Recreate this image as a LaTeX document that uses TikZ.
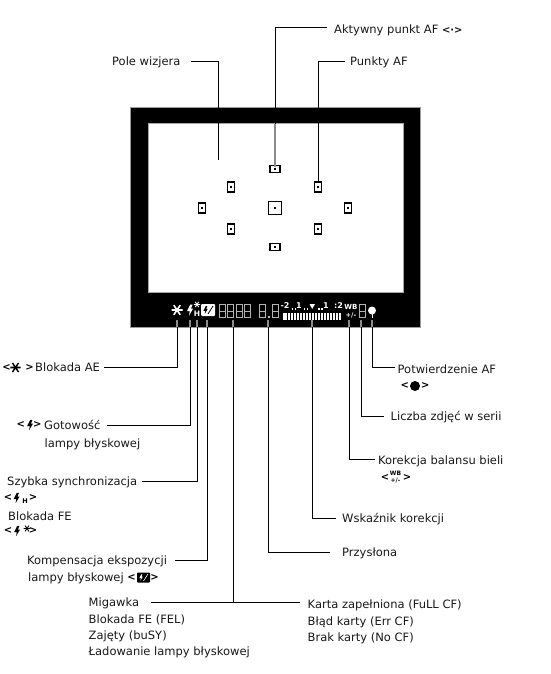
\documentclass[tikz,border=0pt]{standalone}
\usepackage{fontspec}
\setmainfont{DejaVu Sans}
\newfontfamily\symf{DejaVu Sans}[BoldFont={DejaVu Sans Bold}]
\newcommand{\digit}[2]{\draw[digitline] (#1,#2) rectangle ++(6,13) (#1,#2+6.5) -- ++(6,0);}
\newcommand{\boltshape}[4]{\fill[#4] (#1+0.3*#3,#2-5.5*#3) -- (#1+2.6*#3,#2-5.5*#3) -- (#1+1*#3,#2-1.5*#3) -- (#1+3.2*#3,#2-1.5*#3) -- (#1-1*#3,#2+5.5*#3) -- (#1-0.2*#3,#2+1.2*#3) -- (#1-3*#3,#2+1.2*#3) -- cycle;}
\newcommand{\starshape}[4]{\draw[#4,line width=#3*1.6pt] (#1-5.5*#3,#2) -- (#1+5.5*#3,#2) (#1-3.2*#3,#2-4.8*#3) -- (#1+3.2*#3,#2+4.8*#3) (#1+3.2*#3,#2-4.8*#3) -- (#1-3.2*#3,#2+4.8*#3);}
\tikzset{
  x=1pt,y=-1pt,
  lbl/.style={anchor=base west,yshift=-4pt,inner sep=0pt,font=\fontsize{11.5}{13}\selectfont,text=black!90},
  leader/.style={draw=black,line width=1pt},
  inframe/.style={draw=black!45,line width=1.4pt},
  afbox/.style={draw=black,line width=1.1pt,fill=white,inner sep=0pt,minimum width=#1},
  afdot/.style={fill=black,inner sep=0pt,minimum size=1.6pt},
  digitline/.style={draw=black!30!white,line width=.6pt},
  brk/.style={anchor=center,inner sep=0pt,font=\symf\bfseries\fontsize{10}{11}\selectfont},
  lcd/.style={anchor=center,inner sep=0pt,text=white,font=\symf\bfseries\fontsize{8}{9}\selectfont},
}
\begin{document}
\begin{tikzpicture}
\useasboundingbox (0,0) rectangle (550,674);
\fill[white] (0,0) rectangle (550,674);
% frame
\filldraw[fill=black,draw=black!40,line width=.8pt] (130,107) rectangle (420,327);
\fill[white] (148,123) rectangle (403,292);
\draw[black!35,line width=.8pt] (148,123) rectangle (403,292);
% AF points
\foreach \n/\xx/\yy/\w/\h in {t/275/169/10/7,ul/231/187/7/10,ur/318/187/7/10,l/202/208/7/10,c/275/208/13/13,r/348/208/7/10,ll/231/229/7/10,lr/318/229/7/10,b/275/247/10/7}{
  \node[afbox=\w pt,minimum height=\h pt] (af\n) at (\xx,\yy) {};
  \node[afdot] (dot\n) at (\xx,\yy) {};
}
% LCD
\starshape{177}{310}{1}{white}
\boltshape{190}{310}{1}{white}
\starshape{197}{304.5}{.55}{white}
\node[lcd,font=\symf\bfseries\fontsize{7.5}{8}\selectfont] (lcdH) at (197,314) {H};
\fill[white,rounded corners=1pt] (201,304) rectangle (215,316);
\boltshape{205.5}{310}{.7}{black}
\draw[black,line width=.8pt] (208,314) -- (213,306);
\foreach \xx in {219,227.5,236,244.5,259,272,359}{\digit{\xx}{304.5}}
\fill[white!70!black] (268,316) rectangle (269.5,317.5);
\node[lcd] (sc1) at (285,305.5) {-2};
\node[lcd] (sc2) at (299,305.5) {1};
\node[lcd] (sc3) at (326,305.5) {1};
\node[lcd] (sc4) at (338.5,305.5) {:2};
\foreach \xx in {291.5,294.5,303.5,306.5,318,321}{\fill[white] (\xx,307.5) rectangle ++(1.6,2);}
\fill[white] (309.5,304) -- (315,304) -- (312.2,309) -- cycle;
\foreach \i in {0,...,19}{\fill[white] ({282.5+\i*2.95},313) rectangle ++(2,7);}
\node[lcd,font=\symf\bfseries\fontsize{7}{8}\selectfont] (lcdWB) at (351,306.5) {WB};
\node[lcd,font=\symf\bfseries\fontsize{6.5}{8}\selectfont] (lcdPM) at (351,315.5) {+/-};
\fill[white] (372,310.5) circle (4);
\fill[white] (371.5,313) rectangle (373,318);
% labels
\node[lbl] (aktywny) at (334,29.5) {Aktywny punkt AF \symf\bfseries\fontsize{10}{11}\selectfont<·>};
\node[lbl] (punkty) at (350,62) {Punkty AF};
\node[lbl] (pole) at (112,61.5) {Pole wizjera};
\node[lbl] (aebl) at (35,367.5) {Blokada AE};
\node[brk] (aebr) at (18,367.5) {<\hspace{14.5pt}>};
\starshape{15.5}{367.5}{.95}{black}
\node[brk] (gotbr) at (29,425) {<\hspace{8pt}>};
\boltshape{30}{425}{.95}{black}
\node[lbl] (gotowosc) at (44,425) {Gotowość};
\node[lbl] (lampa) at (44.5,443) {lampy błyskowej};
\node[lbl] (szybka) at (7,481) {Szybka synchronizacja};
\node[brk] (szbr) at (20.5,498) {<\hspace{16.5pt}>};
\boltshape{16.5}{498}{.95}{black}
\node[lcd,text=black,font=\symf\bfseries\fontsize{6.5}{8}\selectfont] (szH) at (25,501) {H};
\node[lbl] (blokfe) at (8,516.5) {Blokada FE};
\node[brk] (febr) at (20.5,531) {<\hspace{16.5pt}>};
\boltshape{17}{531}{.95}{black}
\starshape{27}{528.5}{.6}{black}
\node[lbl] (komp) at (27,560) {Kompensacja ekspozycji};
\node[lbl] (komp2) at (28,577.5) {lampy błyskowej};
\node[brk] (kbr) at (143,577.5) {<\hspace{14.5pt}>};
\fill[black,rounded corners=.8pt] (137,572.5) rectangle (150,582.5);
\boltshape{141}{577.5}{.55}{white}
\draw[white,line width=.6pt] (143.5,581) -- (148,574);
\node[lbl] (migawka) at (88.5,602.5) {Migawka};
\node[lbl] (fel) at (88.5,619) {Blokada FE (FEL)};
\node[lbl] (zajety) at (88.5,635) {Zajęty (buSY)};
\node[lbl] (ladow) at (88.5,651) {Ładowanie lampy błyskowej};
\node[lbl] (karta) at (307.5,604.5) {Karta zapełniona (FuLL CF)};
\node[lbl] (blad) at (307.5,621) {Błąd karty (Err CF)};
\node[lbl] (brak) at (307.5,637) {Brak karty (No CF)};
\node[lbl] (przy) at (342,552.5) {Przysłona};
\node[lbl] (wsk) at (342,518.5) {Wskaźnik korekcji};
\node[lbl] (korbal) at (378,460) {Korekcja balansu bieli};
\node[brk] (wbbr) at (396,477.5) {<\hspace{13.5pt}>};
\node[lcd,text=black,font=\symf\bfseries\fontsize{6}{6}\selectfont] (wbt) at (395.5,473.5) {WB};
\node[lcd,text=black,font=\symf\bfseries\fontsize{6}{6}\selectfont] (wbb) at (395.5,481) {+/-};
\node[lbl] (liczba) at (390.5,416.5) {Liczba zdjęć w serii};
\node[lbl] (potw) at (397.5,369) {Potwierdzenie AF};
\node[brk] (pbr) at (415,386) {<\hspace{12pt}>};
\fill[black] (415,386) circle (5);
% leaders
\foreach \p/\q in {l1/177,l2/190,l3/197,l4/207,l5/233,l6/268,l7/312,l8/349,l9/361,l10/372}{\coordinate (\p) at (\q,320); \draw[inframe] (\p) -- ++(0,7);}
\draw[leader] (104,367) -- (177,367) -- (177,327);
\draw[leader] (107,425) -- (190,425) -- (190,327);
\draw[leader] (142,481) -- (197,481) -- (197,327);
\draw[leader] (175,560) -- (207,560) -- (207,327);
\coordinate (mj) at (233,602);
\draw[leader] (151,602) -- (300,602);
\draw[leader] (mj) -- (233,327);
\draw[leader] (268,327) -- (268,552) -- (330,552);
\draw[leader] (312,327) -- (312,518) -- (336,518);
\draw[leader] (349,327) -- (349,459) -- (375,459);
\draw[leader] (361,327) -- (361,416) -- (384,416);
\draw[leader] (372,327) -- (372,367) -- (395,367);
\draw[inframe] (275,124) -- (275,167);
\draw[leader] (327,28) -- (275,28) -- (275,124);
\draw[leader] (345,62) -- (318,62) -- (318,182);
\draw[leader] (191,62) -- (218,62) -- (218,160);
\end{tikzpicture}
\end{document}
